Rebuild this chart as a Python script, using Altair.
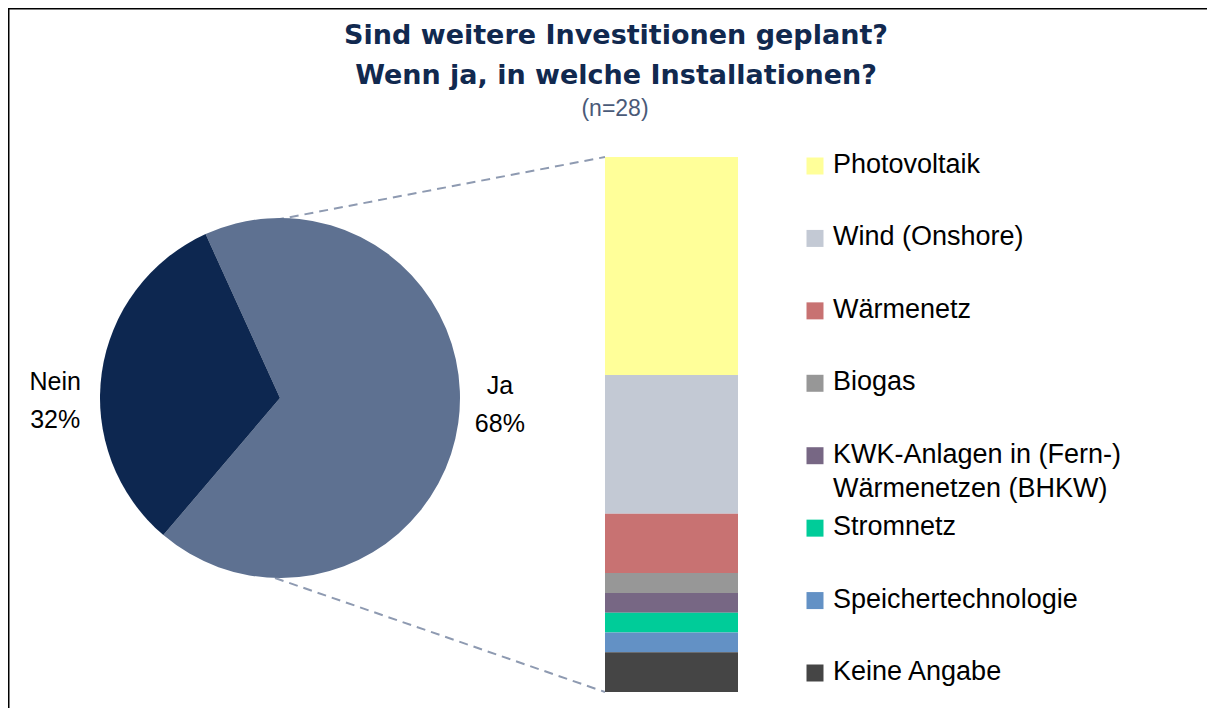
import math
import altair as alt
import pandas as pd

# ---------------- data ----------------
answer_labels = ["Ja", "Nein"]
answer_shares = [68, 32]

installations = [
    "Photovoltaik",
    "Wind (Onshore)",
    "Wärmenetz",
    "Biogas",
    "KWK-Anlagen in (Fern-)\nWärmenetzen (BHKW)",
    "Stromnetz",
    "Speichertechnologie",
    "Keine Angabe",
]
installation_counts = [11, 7, 3, 1, 1, 1, 1, 2]

title_lines = ["Sind weitere Investitionen geplant?", "Wenn ja, in welche Installationen?"]
subtitle_text = "(n=28)"

# ---------------- styles ----------------
answer_colors = ["#5E7191", "#0D2750"]
installation_colors = ["#FFFF99", "#C3C9D4", "#C87272", "#979797",
                       "#776784", "#00CC99", "#6391C5", "#454545"]
TITLE_COLOR = "#11294F"
SUB_COLOR = "#4A5A78"
CONNECTOR_COLOR = "#8E9AB1"
FONT = "Liberation Sans"

# ---------------- layout (pixels in plot area) ----------------
W, H = 1199, 700
CX, CY, R = 272, 390, 180
START = -0.426
BAR_X0, BAR_X1, BAR_TOP, BAR_BOTTOM = 597, 730, 149, 684
LEG_SYM_X, LEG_TXT_X, LEG_TOP, LEG_BOTTOM = 807, 825, 158, 665

pie_df = pd.DataFrame({"label": answer_labels, "value": answer_shares,
                       "order": list(range(len(answer_labels)))})
inst_df = pd.DataFrame({"cat": installations, "count": installation_counts,
                        "rank": list(range(len(installations)))})

color_scale = alt.Scale(domain=answer_labels + installations,
                        range=answer_colors + installation_colors)
theta_scale = alt.Scale(domain=[0, sum(answer_shares)], range=[START, START + 2 * math.pi])

# frame (top and left edge only), drawn as thin filled strips
one = pd.DataFrame({"k": [0]})
frame_top = alt.Chart(one).mark_rect(color="black").encode(
    x=alt.value(0), x2=alt.value(W), y=alt.value(0), y2=alt.value(1.5))
frame_left = alt.Chart(one).mark_rect(color="black").encode(
    x=alt.value(0), x2=alt.value(1.5), y=alt.value(0), y2=alt.value(H))

# connectors from pie to bar
conn_df = pd.DataFrame({"x": [CX - 5, CX - 5], "y": [CY - R + 2, CY + R],
                        "x2": [BAR_X0, BAR_X0], "y2": [BAR_TOP, BAR_BOTTOM]})
connectors = alt.Chart(conn_df).mark_rule(color=CONNECTOR_COLOR, strokeWidth=2,
                                          strokeDash=[9, 6]).encode(
    x=alt.X("x:Q", scale=None, axis=None), y=alt.Y("y:Q", scale=None, axis=None),
    x2="x2:Q", y2="y2:Q")

pie = alt.Chart(pie_df).mark_arc(outerRadius=R).encode(
    theta=alt.Theta("value:Q", stack=True, scale=theta_scale),
    color=alt.Color("label:N", scale=color_scale, legend=None),
    order=alt.Order("order:Q"),
    x=alt.value(CX), y=alt.value(CY))


def pie_label(name, radius, dy):
    return alt.Chart(pie_df).transform_window(
        cum="sum(value)", sort=[alt.SortField("order")]
    ).transform_calculate(
        mid="datum.cum - datum.value / 2",
        txt="datum.label + '\\n' + datum.value + '%'",
    ).transform_filter(alt.datum.label == name).mark_text(
        radius=radius, dy=dy, align="center", baseline="alphabetic",
        fontSize=25, font=FONT, lineBreak="\n", lineHeight=38, color="black"
    ).encode(
        theta=alt.Theta("mid:Q", stack=False, scale=theta_scale),
        x=alt.value(CX), y=alt.value(CY), text="txt:N")


label_nein = pie_label("Nein", 227, 24)
label_ja = pie_label("Ja", 222, -35)

bar = alt.Chart(inst_df).transform_stack(
    stack="count", groupby=[], as_=["y0", "y1"],
    sort=[alt.SortField("rank", order="descending")]
).mark_rect().encode(
    x=alt.value(BAR_X0), x2=alt.value(BAR_X1),
    y=alt.Y("y0:Q",
            scale=alt.Scale(domain=[0, sum(installation_counts)], range=[BAR_BOTTOM, BAR_TOP]),
            axis=None),
    y2="y1:Q",
    color=alt.Color("cat:N", scale=color_scale, legend=None))

leg_y = alt.Y("cat:N", scale=alt.Scale(type="point", domain=installations,
                                       range=[LEG_TOP, LEG_BOTTOM], padding=0), axis=None)
leg_sym = alt.Chart(inst_df).mark_point(shape="square", filled=True, size=289, opacity=1).encode(
    x=alt.value(LEG_SYM_X), y=leg_y,
    color=alt.Color("cat:N", scale=color_scale, legend=None))
leg_txt = alt.Chart(inst_df).mark_text(
    align="left", baseline="alphabetic", dy=7, fontSize=27, font=FONT,
    lineBreak="\n", lineHeight=34, color="black").encode(
    x=alt.value(LEG_TXT_X), y=leg_y, text="cat:N")

title_df = pd.DataFrame({"text": ["\n".join(title_lines)]})
title = alt.Chart(title_df).mark_text(
    font="DejaVu Sans", fontWeight="bold", fontSize=27, lineBreak="\n", lineHeight=40,
    align="center", baseline="alphabetic", color=TITLE_COLOR).encode(
    x=alt.value(608), y=alt.value(36), text="text:N")

sub_df = pd.DataFrame({"text": [subtitle_text]})
subtitle = alt.Chart(sub_df).mark_text(
    font=FONT, fontSize=23, align="center", baseline="alphabetic", color=SUB_COLOR).encode(
    x=alt.value(607), y=alt.value(108), text="text:N")

chart = alt.layer(
    frame_top, frame_left, connectors, pie, label_nein, label_ja, bar, leg_sym, leg_txt,
    title, subtitle
).resolve_scale(y="independent").properties(
    width=W, height=H, autosize=alt.AutoSizeParams(type="none"), padding=0,
    background="white"
).configure_view(stroke="transparent", strokeWidth=0)

chart.save("out.html", embed_options={"renderer": "svg", "actions": False})
